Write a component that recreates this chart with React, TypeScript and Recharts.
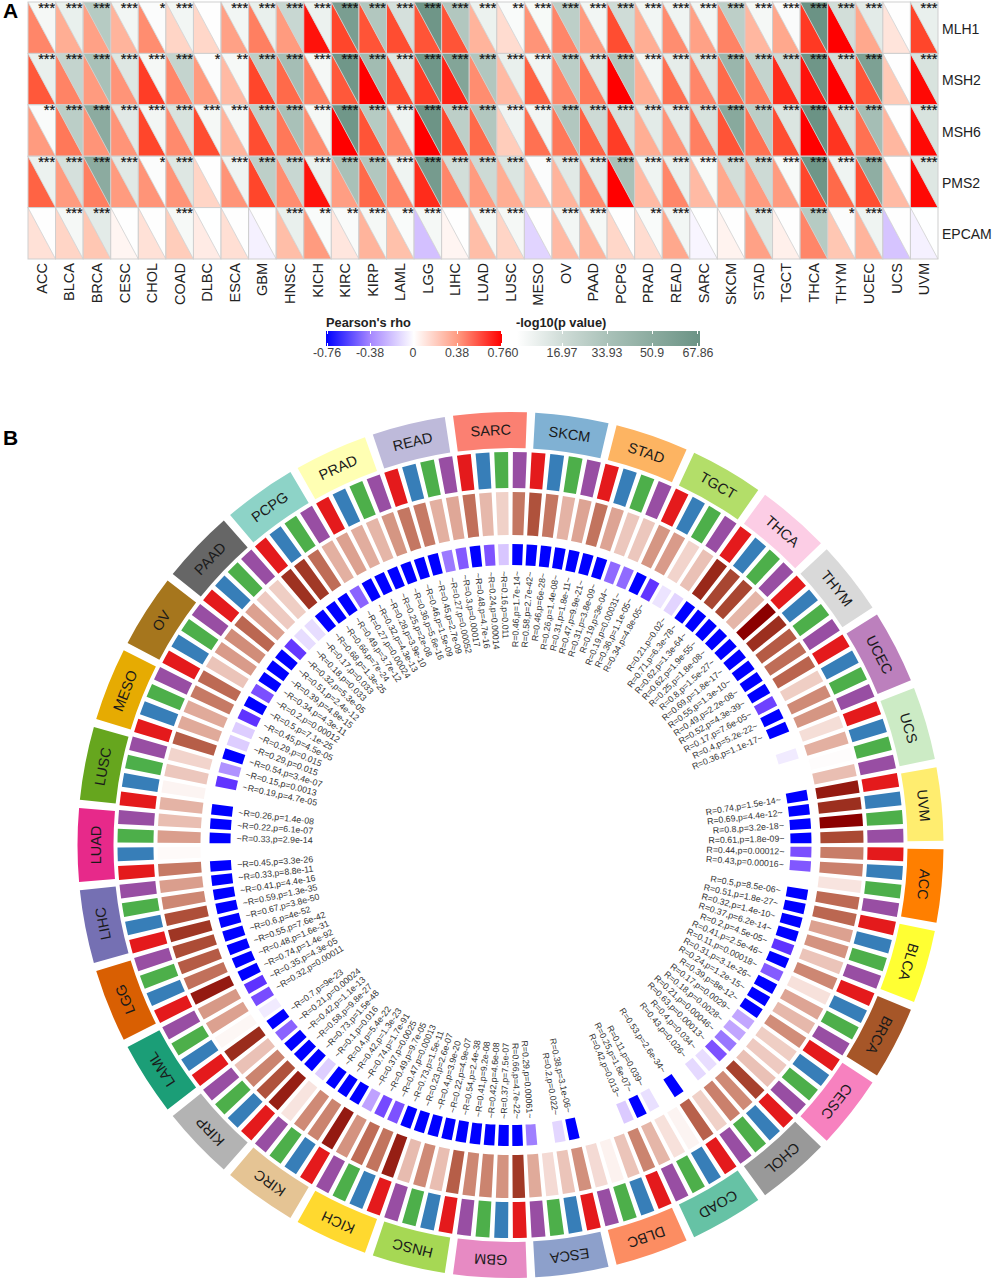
import React from 'react';
import { Cell, Pie, PieChart, Scatter, ScatterChart, XAxis, YAxis } from 'recharts';

const tumors = ['ACC', 'BLCA', 'BRCA', 'CESC', 'CHOL', 'COAD', 'DLBC', 'ESCA', 'GBM', 'HNSC', 'KICH', 'KIRC', 'KIRP', 'LAML', 'LGG', 'LIHC', 'LUAD', 'LUSC', 'MESO', 'OV', 'PAAD', 'PCPG', 'PRAD', 'READ', 'SARC', 'SKCM', 'STAD', 'TGCT', 'THCA', 'THYM', 'UCEC', 'UCS', 'UVM'];
const genes = ['MLH1', 'MSH2', 'MSH6', 'PMS2', 'EPCAM'];

// panel A, one array per gene, same order as tumors
const rhoMLH1 = [0.42, 0.3, 0.34, 0.28, 0.4, 0.17, 0.16, 0.34, 0.44, 0.36, 0.72, 0.6, 0.56, 0.58, 0.56, 0.56, 0.28, 0.14, 0.38, 0.42, 0.36, 0.58, 0.3, 0.4, 0.34, 0.43, 0.27, 0.32, 0.63, 0.76, 0.32, 0.11, 0.6];
const rhoMSH2 = [0.55, 0.43, 0.36, 0.38, 0.62, 0.42, 0.36, 0.26, 0.6, 0.5, 0.44, 0.55, 0.76, 0.58, 0.62, 0.68, 0.4, 0.26, 0.52, 0.42, 0.46, 0.76, 0.3, 0.48, 0.42, 0.5, 0.45, 0.66, 0.72, 0.76, 0.56, 0.21, 0.74];
const rhoMSH6 = [0.36, 0.46, 0.38, 0.38, 0.6, 0.41, 0.58, 0.28, 0.58, 0.46, 0.4, 0.76, 0.56, 0.42, 0.76, 0.6, 0.5, 0.2, 0.48, 0.46, 0.52, 0.62, 0.3, 0.38, 0.44, 0.56, 0.48, 0.58, 0.76, 0.64, 0.48, 0.27, 0.74];
const rhoPMS2 = [0.52, 0.36, 0.44, 0.36, 0.38, 0.38, 0.17, 0.38, 0.6, 0.4, 0.72, 0.35, 0.5, 0.42, 0.66, 0.42, 0.36, 0.3, 0.26, 0.28, 0.41, 0.76, 0.26, 0.42, 0.26, 0.32, 0.36, 0.36, 0.6, 0.5, 0.58, 0.26, 0.74];
const rhoEPCAM = [0.12, 0.17, 0.22, 0.04, 0.12, 0.2, 0.08, 0.13, -0.04, 0.25, 0.36, 0.1, 0.28, 0.24, -0.17, 0.04, 0.25, 0.17, -0.12, 0.26, 0.28, 0.16, 0.14, 0.32, -0.03, 0.05, 0.34, 0.06, 0.42, 0.22, 0.28, -0.16, -0.04];

const logpMLH1 = [4, 8, 28, 5, 1.5, 5, 0.5, 5, 8, 20, 7, 60, 30, 15, 66, 30, 7, 2.5, 3, 25, 5, 17, 5, 6, 5, 25, 4, 2, 68, 16, 10, 0.3, 8];
const logpMSH2 = [8, 22, 34, 12, 4, 22, 1.5, 3.5, 25, 36, 4, 65, 38, 12, 65, 55, 30, 8, 5, 26, 12, 30, 5, 9, 12, 42, 22, 18, 66, 16, 58, 0.3, 14];
const logpMSH6 = [2.5, 26, 50, 11, 5, 14, 4, 4, 24, 34, 4, 65, 28, 6, 67, 25, 30, 6, 5, 30, 18, 15, 10, 10, 14, 52, 26, 13, 68, 14, 36, 0.3, 14];
const logpPMS2 = [7, 15, 50, 11, 1.5, 12, 0.3, 6, 25, 20, 7, 34, 30, 6, 62, 16, 18, 13, 1.5, 11, 10, 34, 6, 8, 3, 16, 18, 3, 66, 6, 48, 0.3, 12];
const logpEPCAM = [0.3, 4, 10, 0.5, 0.3, 3.5, 0.2, 0.5, 0.4, 8, 2.5, 2.5, 4, 2.5, 4, 0.5, 4, 4, 0.3, 5, 4, 0.3, 2.5, 5, 0.2, 0.3, 12, 0.3, 28, 1.5, 6, 0.3, 0.2];

const starsMLH1 = [3, 3, 3, 3, 1, 3, 0, 3, 3, 3, 3, 3, 3, 3, 3, 3, 3, 2, 3, 3, 3, 3, 3, 3, 3, 3, 3, 3, 3, 3, 3, 0, 3];
const starsMSH2 = [3, 3, 3, 3, 3, 3, 1, 2, 3, 3, 3, 3, 3, 3, 3, 3, 3, 3, 3, 3, 3, 3, 3, 3, 3, 3, 3, 3, 3, 3, 3, 0, 3];
const starsMSH6 = [2, 3, 3, 3, 3, 3, 3, 3, 3, 3, 3, 3, 3, 3, 3, 3, 3, 3, 3, 3, 3, 3, 3, 3, 3, 3, 3, 3, 3, 3, 3, 0, 3];
const starsPMS2 = [3, 3, 3, 3, 1, 3, 0, 3, 3, 3, 3, 3, 3, 3, 3, 3, 3, 3, 1, 3, 3, 3, 3, 3, 3, 3, 3, 3, 3, 3, 3, 0, 3];
const starsEPCAM = [0, 3, 3, 0, 0, 3, 0, 0, 0, 3, 2, 2, 3, 2, 3, 0, 3, 3, 0, 3, 3, 0, 2, 3, 0, 0, 3, 0, 3, 1, 3, 0, 0];

const rhoByGene = [rhoMLH1, rhoMSH2, rhoMSH6, rhoPMS2, rhoEPCAM];
const logpByGene = [logpMLH1, logpMSH2, logpMSH6, logpPMS2, logpEPCAM];
const starsByGene = [starsMLH1, starsMSH2, starsMSH6, starsPMS2, starsEPCAM];

// panel B, four cells per tumor, clockwise from 3 o'clock
const cellRho = [
  0.44, 0.43, 0.1, 0.5, 0.51, 0.32, 0.37, 0.2, 0.41, 0.11, 0.31, 0.24,
  0.39, 0.17, 0.18, 0.21, 0.63, 0.4, 0.43, 0.16, 0.53, 0.04, 0.11, 0.25,
  0.42, 0.2, 0.05, 0.13, 0.38, 0.2, 0.13, 0.29, 0.66, 0.37, 0.42, 0.41,
  0.54, 0.22, 0.4, 0.23, 0.73, 0.47, 0.49, 0.37, 0.74, 0.42, 0.4, 0.1,
  0.73, 0.58, 0.42, 0.21, 0.7, 0.03, 0.32, 0.35, 0.74, 0.48, 0.55, 0.6,
  0.67, 0.59, 0.41, 0.33, 0.45, 0.02, 0.33, 0.22, 0.26, 0.04, 0.19, 0.15,
  0.54, 0.29, 0.29, 0.45, 0.5, 0.2, 0.34, 0.39, 0.51, 0.32, 0.18, 0.17,
  0.68, 0.66, 0.49, 0.27, 0.32, 0.28, 0.25, 0.36, 0.46, 0.45, 0.27, 0.3,
  0.48, 0.24, 0.16, 0.46, 0.58, 0.46, 0.26, 0.31, 0.47, 0.31, 0.19, 0.19,
  0.36, 0.34, 0.15, 0.21, 0.71, 0.62, 0.62, 0.25, 0.8, 0.69, 0.55, 0.49,
  0.52, 0.17, 0.4, 0.36, 0.12, 0.27, 0.01, 0.22, 0.74, 0.69, 0.8, 0.61,
];
const cellP = [
  '0.00012', '0.00016', '', '8.5e-06', '1.8e-27', '1.4e-10', '6.2e-14', '4.5e-05', '2.5e-46', '0.00018', '3.1e-26', '1.2e-15',
  '8e-12', '0.0029', '0.0028', '0.00046', '0.00013', '0.034', '0.026', '', '2.6e-34', '', '0.039', '1.6e-07',
  '0.013', '', '', '', '3.1e-06', '0.022', '', '0.00061', '4.7e-22', '7.5e-07', '4.6e-08', '9.2e-08',
  '2.4e-38', '4.9e-07', '3.9e-20', '2.6e-07', '1.5e-11', '0.00013', '9.7e-05', '0.0025', '1.7e-91', '1.3e-23', '5.4e-22', '0.016',
  '1.5e-48', '9.8e-27', '1.1e-13', '0.00024', '9e-23', '0.06', '0.00011', '4.3e-05', '1.4e-92', '1.6e-31', '7.6e-42', '4e-52',
  '3.8e-50', '1.3e-35', '4.4e-16', '8.8e-11', '3.3e-26', '', '2.9e-14', '6.1e-07', '1.4e-08', '', '4.7e-05', '0.0013',
  '3.4e-07', '0.015', '0.015', '4.5e-05', '7.1e-25', '0.00012', '4.3e-11', '4.8e-15', '2.4e-12', '5.3e-05', '0.033', '0.033',
  '1.3e-25', '7e-24', '3.7e-12', '0.00024', '4.3e-13', '3.9e-10', '2e-08', '5.6e-16', '1.5e-09', '2.7e-09', '0.00052', '0.00017',
  '4.7e-16', '0.00014', '0.011', '1.7e-14', '2.7e-42', '6e-28', '1.4e-08', '1.8e-11', '9.9e-21', '3.8e-09', '3e-04', '0.00031',
  '1.1e-05', '4.8e-05', '0.05', '0.02', '6.3e-78', '1.3e-64', '1.9e-55', '1.8e-08', '1.5e-27', '1.8e-17', '1.3e-10', '2.2e-08',
  '4.3e-39', '7.6e-05', '5.2e-22', '1.1e-17', '', '0.06', '', '', '1.5e-14', '4.4e-12', '3.2e-18', '1.8e-09',
];

const tumorColors = ['#ff7f00', '#ffff33', '#a65628', '#f781bf', '#999999', '#66c2a5', '#fc8d62', '#8da0cb', '#e78ac3', '#a6d854', '#ffd92f', '#e5c494', '#b3b3b3', '#1b9e77', '#d95f02', '#7570b3', '#e7298a', '#66a61e', '#e6ab02', '#a6761d', '#666666', '#8dd3c7', '#ffffb3', '#bebada', '#fb8072', '#80b1d3', '#fdb462', '#b3de69', '#fccde5', '#d9d9d9', '#bc80bd', '#ccebc5', '#ffed6f'];
const geneColors = ['#e41a1c', '#377eb8', '#4daf4a', '#984ea3'];

const rhoLegendTicks = ['-0.76', '-0.38', '0', '0.38', '0.760'];
const rhoLegendPos = [327, 370, 413, 457, 503];
const logpLegendTicks = ['16.97', '33.93', '50.9', '67.86'];
const logpLegendPos = [562, 607, 652, 698];

const FONT = '"Liberation Sans", Arial, sans-serif';
const CELL_W = 910 / 33;
const CELL_H = 257 / 5;

// color scale helpers
const hex = (c: string) => [1, 3, 5].map((i) => parseInt(c.slice(i, i + 2), 16));
const ramp = (stops: [number, string][]) => (v: number) => {
  if (v <= stops[0][0]) return stops[0][1];
  for (let i = 1; i < stops.length; i++) {
    if (v <= stops[i][0]) {
      const t = (v - stops[i - 1][0]) / (stops[i][0] - stops[i - 1][0]);
      const a = hex(stops[i - 1][1]);
      const b = hex(stops[i][1]);
      return `rgb(${a.map((x, k) => Math.round(x + (b[k] - x) * t)).join(',')})`;
    }
  }
  return stops[stops.length - 1][1];
};

const heatRho = ramp([[-0.76, '#0000ff'], [-0.38, '#9a6cff'], [-0.1, '#e6dcff'], [0, '#ffffff'], [0.1, '#ffe6de'], [0.2, '#ffcdbb'], [0.3, '#ffae94'], [0.38, '#ff9478'], [0.5, '#ff6a4a'], [0.6, '#ff462b'], [0.76, '#ff0000']]);
const heatLogp = ramp([[0, '#ffffff'], [5, '#f2f6f4'], [17, '#cfdcd7'], [34, '#a9c1b8'], [51, '#8aaa9e'], [68, '#6b9385']]);
const brownRho = ramp([[0, '#ffffff'], [0.1, '#f8e4df'], [0.2, '#ebc4b9'], [0.3, '#dfa797'], [0.4, '#cf8a76'], [0.5, '#bd6a54'], [0.6, '#ac4c36'], [0.7, '#9a2c1c'], [0.8, '#8b0000']]);
const blueP = ramp([[1, '#ffffff'], [1.3, '#ece4ff'], [1.7, '#e2d4ff'], [2.5, '#c4a8ff'], [3.2, '#a080ff'], [3.9, '#7c50ff'], [4.4, '#5c30ff'], [4.9, '#0000ff']]);

const heatPoints = genes.flatMap((gene, row) =>
  tumors.map((tumor, col) => ({
    col,
    row,
    rho: rhoByGene[row][col],
    logp: logpByGene[row][col],
    stars: starsByGene[row][col],
  })),
);

const ringCells = cellRho.map((rho, i) => ({
  weight: 1,
  rho,
  p: cellP[i],
  gene: i % 4,
}));
const tumorSlices = tumors.map((name, i) => ({ name, weight: 1, color: tumorColors[i] }));

const HeatCell = (props: any) => {
  const { cx, cy, payload } = props;
  const x0 = cx - CELL_W / 2;
  const x1 = cx + CELL_W / 2;
  const y0 = cy - CELL_H / 2;
  const y1 = cy + CELL_H / 2;
  return (
    <g>
      <polygon points={`${x0},${y0} ${x0},${y1} ${x1},${y1}`} fill={heatRho(payload.rho)} />
      <polygon points={`${x0},${y0} ${x1},${y0} ${x1},${y1}`} fill={heatLogp(payload.logp)} />
      <line x1={x0} y1={y0} x2={x1} y2={y1} stroke="#cfcfcf" strokeWidth={0.8} />
      <rect x={x0} y={y0} width={CELL_W} height={CELL_H} fill="none" stroke="#cfcfcf" strokeWidth={1} />
      {payload.stars > 0 && (
        <text x={x1 - 0.5} y={y0 + 10.5} textAnchor="end" fontSize={14.5} fill="#111" stroke="#111" strokeWidth={0.2} fontFamily={FONT}>
          {'*'.repeat(payload.stars)}
        </text>
      )}
    </g>
  );
};

const TumorTick = (props: any) => (
  <text
    x={0}
    y={0}
    transform={`translate(${props.x + 5},263) rotate(-90)`}
    textAnchor="end"
    fontSize={14.5}
    fill="#222"
    fontFamily={FONT}
  >
    {tumors[props.payload.value]}
  </text>
);

const GeneTick = (props: any) => (
  <text x={942} y={props.y + 6} fontSize={14} fill="#222" fontFamily={FONT}>
    {genes[props.payload.value]}
  </text>
);

const RAD = Math.PI / 180;

const tumorLabel = (props: any) => {
  const { cx, cy, midAngle, name } = props;
  const r = 415;
  const x = cx + r * Math.cos(midAngle * RAD);
  const y = cy - r * Math.sin(midAngle * RAD);
  const rot = 90 - midAngle;
  return (
    <text
      x={x}
      y={y}
      transform={`rotate(${rot},${x},${y})`}
      textAnchor="middle"
      dominantBaseline="central"
      fontSize={14.5}
      fill="#1a1a1a"
      fontFamily={FONT}
    >
      {name}
    </text>
  );
};

const statLabel = (props: any) => {
  const { cx, cy, midAngle, payload } = props;
  const p = payload.p;
  if (!p || Number(p) >= 0.05) return null;
  const r = 274;
  const x = cx + r * Math.cos(midAngle * RAD);
  const y = cy - r * Math.sin(midAngle * RAD);
  const cw = -midAngle;
  const leftSide = ((cw % 360) + 360) % 360 > 90 && ((cw % 360) + 360) % 360 < 270;
  const txt = `R=${payload.rho},p=${p}`;
  return (
    <text
      x={x}
      y={y}
      transform={`rotate(${leftSide ? cw + 180 : cw},${x},${y})`}
      textAnchor={leftSide ? 'start' : 'end'}
      dominantBaseline="central"
      fontSize={8.8}
      fill="#333"
      fontFamily={FONT}
    >
      {leftSide ? `~${txt}` : `${txt}~`}
    </text>
  );
};

const legendBox = (left: number, width: number, background: string) => (
  <div style={{ position: 'absolute', left, top: 331, width, height: 15, background }} />
);

// small white notches on the legend bars
const legendNotch = (x: number) => (
  <React.Fragment key={x}>
    <div style={{ position: 'absolute', left: x, top: 331, width: 1, height: 3, background: '#fff' }} />
    <div style={{ position: 'absolute', left: x, top: 343, width: 1, height: 3, background: '#fff' }} />
  </React.Fragment>
);

const LegendText = ({ x, text, bold }: { x: number; text: string; bold?: boolean }) => (
  <div
    style={{
      position: 'absolute',
      left: bold ? x : x - 30,
      width: bold ? 140 : 60,
      top: bold ? 315 : 346,
      textAlign: bold ? 'left' : 'center',
      fontSize: bold ? 12.8 : 12.4,
      fontWeight: bold ? 700 : 400,
      color: bold ? '#222' : '#444',
      fontFamily: FONT,
      lineHeight: '15px',
    }}
  >
    {text}
  </div>
);

export default function App() {
  return (
    <div style={{ position: 'absolute', left: 0, top: 0, width: 996, height: 1281, background: '#fff', overflow: 'hidden' }}>
      <div style={{ position: 'absolute', left: 3, top: -1, fontSize: 21, fontWeight: 700, fontFamily: FONT, color: '#000' }}>A</div>
      <div style={{ position: 'absolute', left: 3, top: 426, fontSize: 21, fontWeight: 700, fontFamily: FONT, color: '#000' }}>B</div>

      <div style={{ position: 'absolute', left: 0, top: 0 }}>
        <ScatterChart width={996} height={315} margin={{ top: 2, right: 0, bottom: 0, left: 28 }}>
          <XAxis
            type="number"
            dataKey="col"
            domain={[-0.5, 32.5]}
            ticks={tumors.map((_, i) => i)}
            interval={0}
            height={56}
            axisLine={false}
            tickLine={false}
            tick={<TumorTick />}
          />
          <YAxis
            type="number"
            dataKey="row"
            domain={[-0.5, 4.5]}
            ticks={genes.map((_, i) => i)}
            interval={0}
            reversed
            orientation="right"
            width={58}
            axisLine={false}
            tickLine={false}
            tick={<GeneTick />}
          />
          <Scatter data={heatPoints} shape={<HeatCell />} isAnimationActive={false} />
        </ScatterChart>
      </div>

      {legendBox(326, 176, 'linear-gradient(90deg,#0000ff 0%,#a586ff 25%,#ffffff 50%,#ff9a80 75%,#ff0000 100%)')}
      {legendBox(517, 183, 'linear-gradient(90deg,#ffffff 0%,#cfdcd7 25%,#a9c1b8 50%,#8aaa9e 75%,#6b9385 100%)')}
      {[327, 370, 413, 457, 501, 562, 607, 652, 697].map(legendNotch)}
      <LegendText x={326} text="Pearson's rho" bold />
      <LegendText x={516} text="-log10(p value)" bold />
      {rhoLegendTicks.map((t, i) => (
        <LegendText key={t} x={rhoLegendPos[i]} text={t} />
      ))}
      {logpLegendTicks.map((t, i) => (
        <LegendText key={t} x={logpLegendPos[i]} text={t} />
      ))}

      <div style={{ position: 'absolute', left: 0, top: 400 }}>
        <PieChart width={996} height={881} margin={{ top: 0, right: 0, bottom: 0, left: 0 }}>
          <Pie
            data={tumorSlices}
            dataKey="weight"
            nameKey="name"
            cx={510.5}
            cy={445}
            innerRadius={397}
            outerRadius={433}
            startAngle={-0.55}
            endAngle={-360.55}
            paddingAngle={1.1}
            stroke="none"
            label={tumorLabel}
            labelLine={false}
            isAnimationActive={false}
          >
            {tumorSlices.map((s) => (
              <Cell key={s.name} fill={s.color} stroke="none" />
            ))}
          </Pie>
          <Pie
            data={ringCells}
            dataKey="weight"
            cx={510.5}
            cy={445}
            innerRadius={357}
            outerRadius={393}
            startAngle={-0.35}
            endAngle={-360.35}
            paddingAngle={0.7}
            stroke="none"
            isAnimationActive={false}
          >
            {ringCells.map((c, i) => (
              <Cell key={i} fill={geneColors[c.gene]} stroke="none" />
            ))}
          </Pie>
          <Pie
            data={ringCells}
            dataKey="weight"
            cx={510.5}
            cy={445}
            innerRadius={310}
            outerRadius={353}
            startAngle={-0.35}
            endAngle={-360.35}
            paddingAngle={0.7}
            stroke="none"
            isAnimationActive={false}
          >
            {ringCells.map((c, i) => (
              <Cell key={i} fill={brownRho(c.rho)} stroke="none" />
            ))}
          </Pie>
          <Pie
            data={ringCells}
            dataKey="weight"
            cx={510.5}
            cy={445}
            innerRadius={280}
            outerRadius={301}
            startAngle={-0.35}
            endAngle={-360.35}
            paddingAngle={0.7}
            stroke="none"
            label={statLabel}
            labelLine={false}
            isAnimationActive={false}
          >
            {ringCells.map((c, i) => (
              <Cell key={i} fill={c.p ? blueP(-Math.log10(Number(c.p))) : '#ffffff'} stroke="none" />
            ))}
          </Pie>
        </PieChart>
      </div>
    </div>
  );
}
